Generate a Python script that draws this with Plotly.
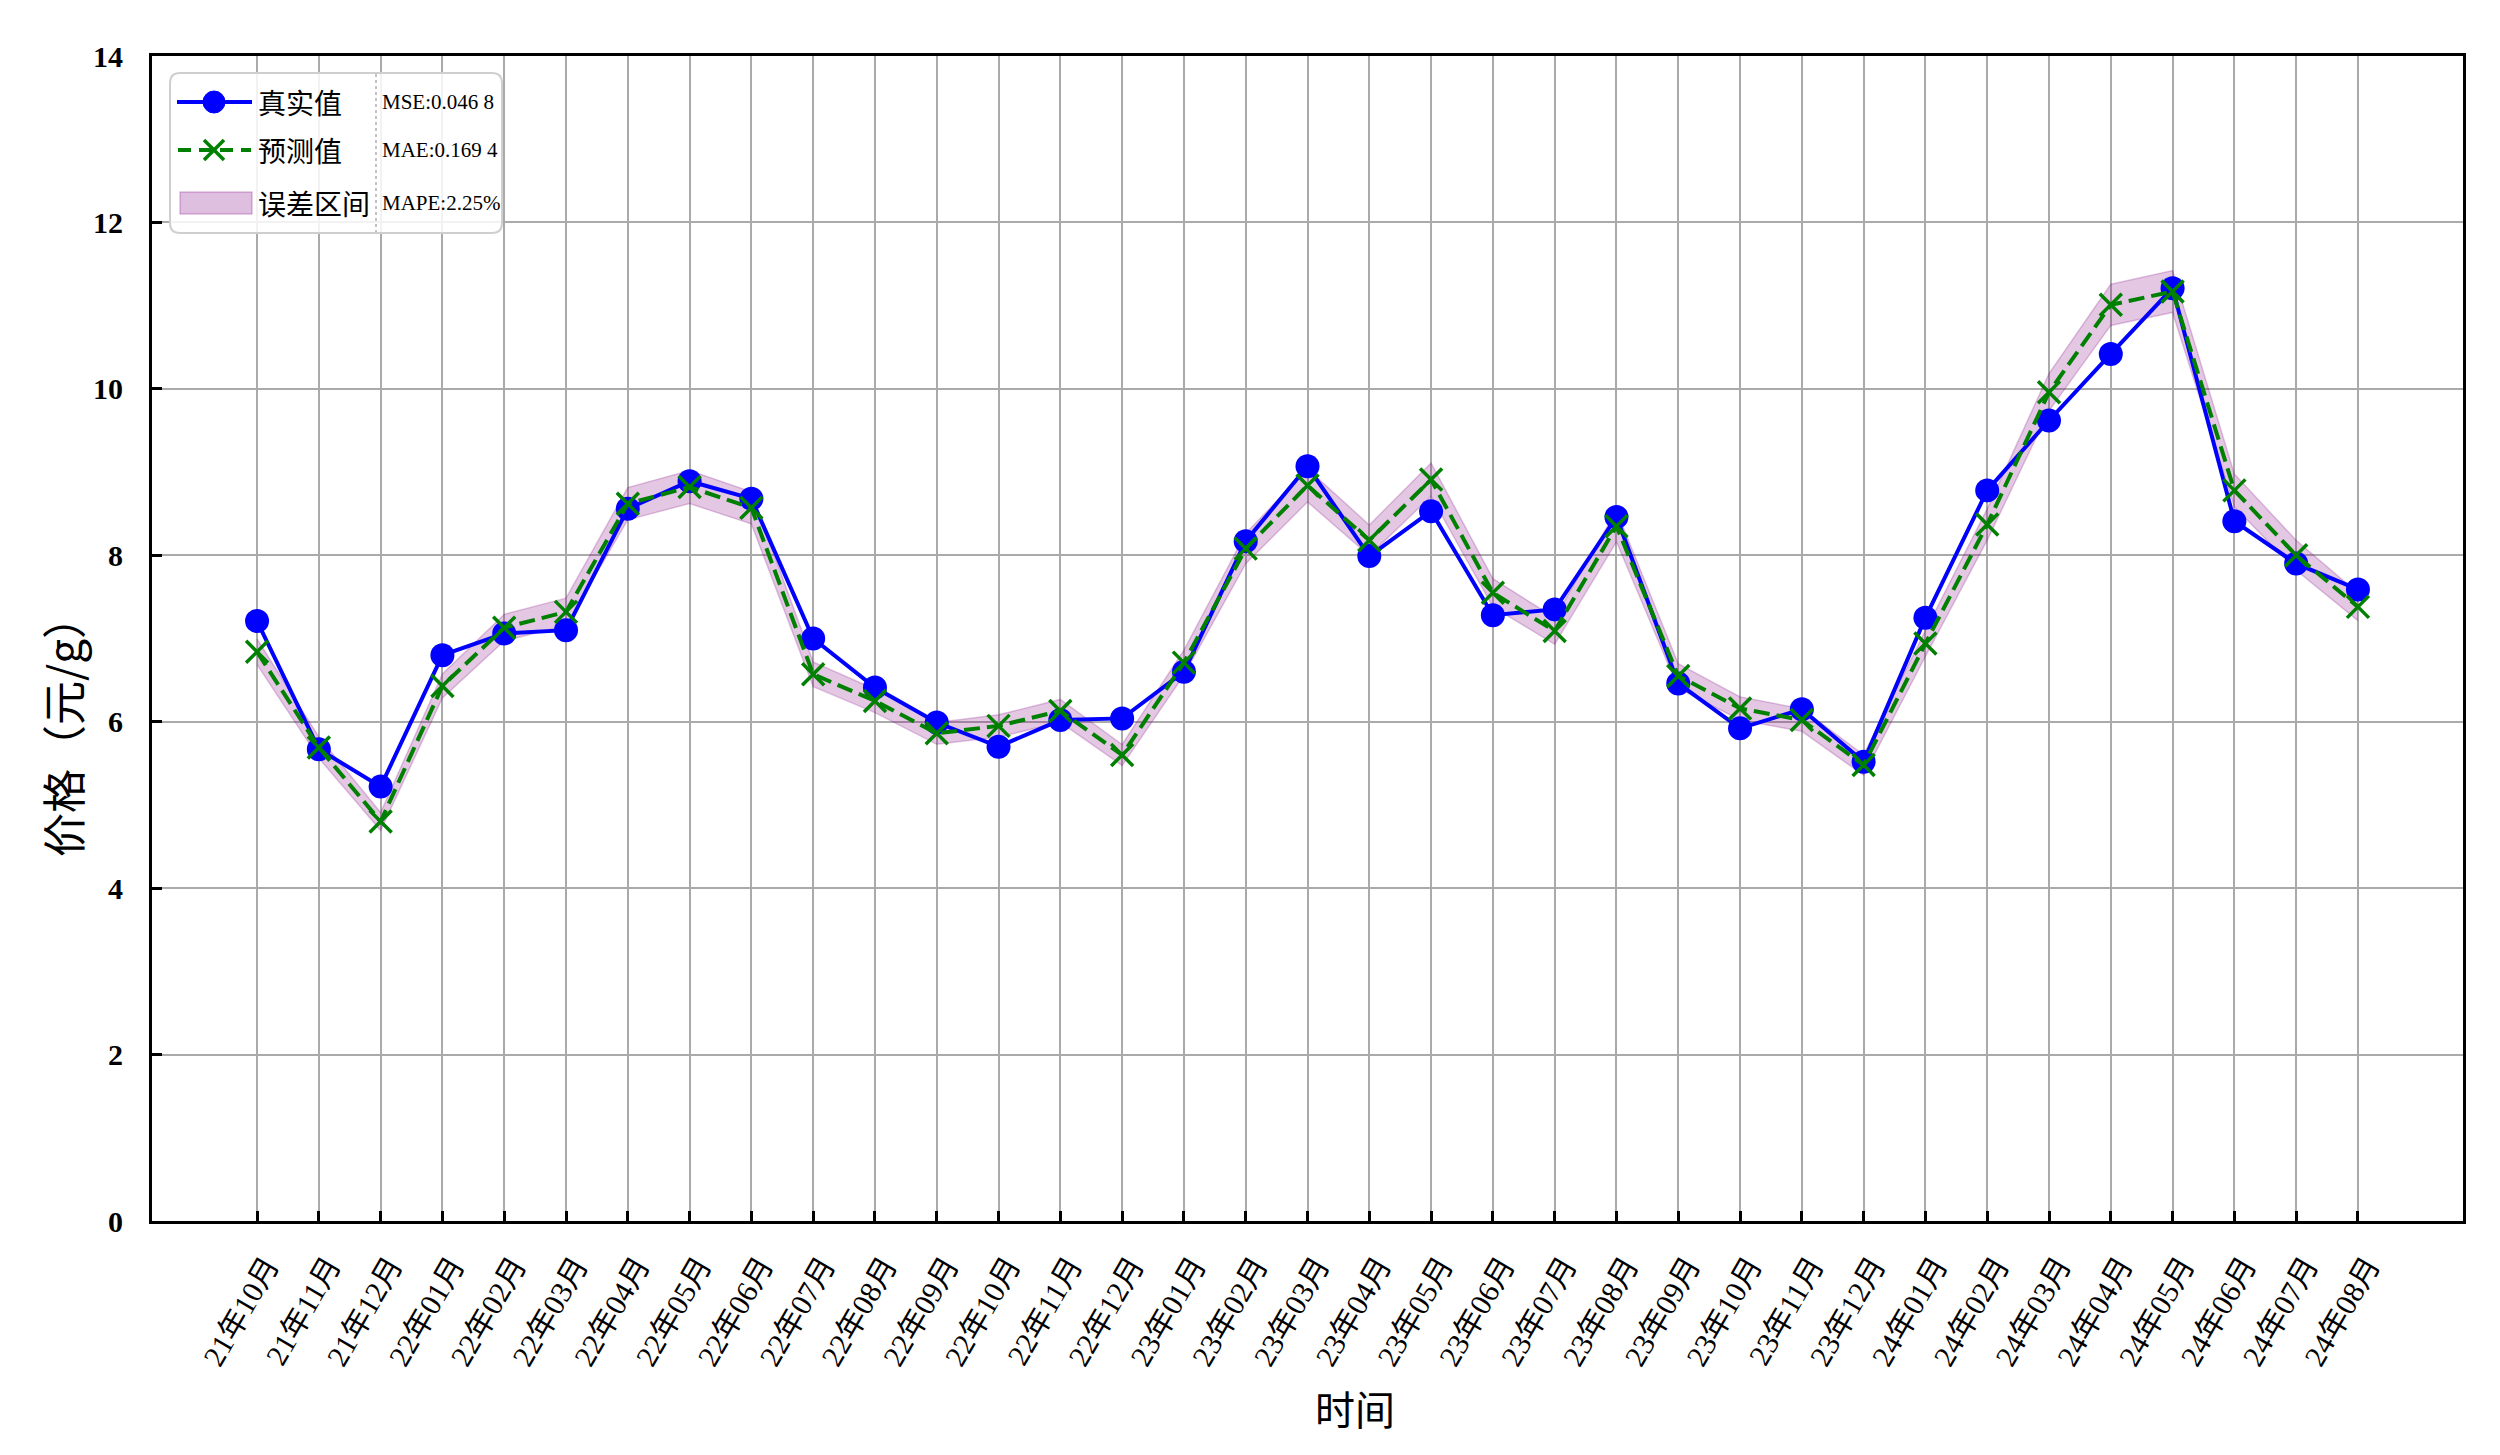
import plotly.graph_objects as go

# ---------------- data ----------------
months = ["21年10月", "21年11月", "21年12月",
          "22年01月", "22年02月", "22年03月", "22年04月", "22年05月", "22年06月",
          "22年07月", "22年08月", "22年09月", "22年10月", "22年11月", "22年12月",
          "23年01月", "23年02月", "23年03月", "23年04月", "23年05月", "23年06月",
          "23年07月", "23年08月", "23年09月", "23年10月", "23年11月", "23年12月",
          "24年01月", "24年02月", "24年03月", "24年04月", "24年05月", "24年06月",
          "24年07月", "24年08月"]

true_values = [7.21, 5.67, 5.22, 6.80, 7.06, 7.10, 8.56, 8.89, 8.68, 7.00,
               6.41, 5.99, 5.70, 6.02, 6.04, 6.60, 8.17, 9.07, 7.99, 8.53,
               7.28, 7.35, 8.46, 6.46, 5.92, 6.15, 5.52, 7.25, 8.78, 9.62,
               10.42, 11.21, 8.41, 7.90, 7.59]

pred_values = [6.84, 5.69, 4.80, 6.43, 7.13, 7.32, 8.62, 8.82, 8.57, 6.57,
               6.25, 5.86, 5.95, 6.13, 5.60, 6.71, 8.08, 8.84, 8.18, 8.91,
               7.55, 7.09, 8.35, 6.55, 6.16, 6.02, 5.48, 6.94, 8.37, 9.96,
               11.01, 11.17, 8.78, 8.00, 7.38]

mse_text = "MSE:0.046 8"
mae_text = "MAE:0.169 4"
mape_text = "MAPE:2.25%"
mape = 0.0225

y_ticks = [0, 2, 4, 6, 8, 10, 12, 14]

upper = [p * (1 + mape) for p in pred_values]
lower = [p * (1 - mape) for p in pred_values]

# ---------------- layout geometry ----------------
OFF = 8                      # default page body margin
W, H = 2500 - OFF, 1455 - OFF
L, R, T, B = 152 - OFF, 37, 56 - OFF, 234
PW, PH = W - L - R, H - T - B


def X(px):
    # page pixel -> paper x
    return (px - OFF - L) / PW


def Y(py):
    # page pixel -> paper y
    return (H - B - (py - OFF)) / PH


BAND_FILL = "rgba(128,0,128,0.22)"
BLUE = "#0000ff"
GREEN = "#008000"
SERIF = "Liberation Serif, Noto Sans CJK SC, serif"
CJK = "Noto Sans CJK SC, Liberation Serif, sans-serif"

fig = go.Figure()

# error band
fig.add_trace(go.Scatter(x=months, y=upper, mode="lines",
                         line=dict(color=BAND_FILL, width=1.5),
                         showlegend=False, hoverinfo="skip"))
fig.add_trace(go.Scatter(x=months, y=lower, mode="lines", fill="tonexty",
                         fillcolor=BAND_FILL,
                         line=dict(color=BAND_FILL, width=1.5),
                         name="误差区间", showlegend=False, hoverinfo="skip"))
# true values
fig.add_trace(go.Scatter(x=months, y=true_values, mode="lines+markers",
                         name="真实值",
                         line=dict(color=BLUE, width=4),
                         marker=dict(symbol="circle", size=24, color=BLUE),
                         showlegend=False))
# predicted values
fig.add_trace(go.Scatter(x=months, y=pred_values, mode="lines+markers",
                         name="预测值",
                         line=dict(color=GREEN, width=4, dash="16px,7px"),
                         marker=dict(symbol="x-thin", size=22,
                                     line=dict(color=GREEN, width=3.5)),
                         showlegend=False))

# ---------------- custom legend ----------------
shapes = []
annotations = []

bx0, bx1, by0, by1, rr = 170, 502, 73, 233, 10
path = (f"M {X(bx0+rr)},{Y(by0)} L {X(bx1-rr)},{Y(by0)} "
        f"Q {X(bx1)},{Y(by0)} {X(bx1)},{Y(by0+rr)} "
        f"L {X(bx1)},{Y(by1-rr)} Q {X(bx1)},{Y(by1)} {X(bx1-rr)},{Y(by1)} "
        f"L {X(bx0+rr)},{Y(by1)} Q {X(bx0)},{Y(by1)} {X(bx0)},{Y(by1-rr)} "
        f"L {X(bx0)},{Y(by0+rr)} Q {X(bx0)},{Y(by0)} {X(bx0+rr)},{Y(by0)} Z")
shapes.append(dict(type="path", path=path, xref="paper", yref="paper",
                   fillcolor="rgba(255,255,255,0.85)",
                   line=dict(color="#cfcfcf", width=2), layer="above"))
shapes.append(dict(type="line", xref="paper", yref="paper",
                   x0=X(376), x1=X(376), y0=Y(by0 + 1), y1=Y(by1 - 1),
                   line=dict(color="#9a9a9a", width=1.2, dash="dot"), layer="above"))

r1, r2, r3 = 102, 150, 203
# row 1: blue line with circle
shapes.append(dict(type="line", xref="paper", yref="paper",
                   x0=X(177), x1=X(252), y0=Y(r1), y1=Y(r1),
                   line=dict(color=BLUE, width=4), layer="above"))
shapes.append(dict(type="circle", xref="paper", yref="paper",
                   x0=X(203), x1=X(225), y0=Y(r1 - 11), y1=Y(r1 + 11),
                   fillcolor=BLUE, line=dict(color=BLUE, width=1), layer="above"))
# row 2: dashed green line with x
shapes.append(dict(type="line", xref="paper", yref="paper",
                   x0=X(178), x1=X(251), y0=Y(r2), y1=Y(r2),
                   line=dict(color=GREEN, width=4, dash="13px,8px"), layer="above"))
shapes.append(dict(type="line", xref="paper", yref="paper",
                   x0=X(204), x1=X(224), y0=Y(r2 - 10), y1=Y(r2 + 10),
                   line=dict(color=GREEN, width=3.5), layer="above"))
shapes.append(dict(type="line", xref="paper", yref="paper",
                   x0=X(204), x1=X(224), y0=Y(r2 + 10), y1=Y(r2 - 10),
                   line=dict(color=GREEN, width=3.5), layer="above"))
# row 3: band patch
shapes.append(dict(type="rect", xref="paper", yref="paper",
                   x0=X(180), x1=X(252), y0=Y(r3 - 11), y1=Y(r3 + 11),
                   fillcolor="rgba(128,0,128,0.25)",
                   line=dict(color="rgba(128,0,128,0.25)", width=1.5), layer="above"))

legend_labels = ["真实值", "预测值", "误差区间"]
metric_labels = [mse_text, mae_text, mape_text]
for ry, lab, met in zip([r1, r2, r3], legend_labels, metric_labels):
    annotations.append(dict(text=lab, xref="paper", yref="paper", x=X(256), y=Y(ry),
                            xanchor="left", yanchor="middle", showarrow=False,
                            font=dict(family=CJK, size=28, color="black")))
    annotations.append(dict(text=met, xref="paper", yref="paper", x=X(380), y=Y(ry),
                            xanchor="left", yanchor="middle", showarrow=False,
                            font=dict(family=SERIF, size=21, color="black")))

# axis titles
annotations.append(dict(text="时间", xref="paper", yref="paper",
                        x=X(1355), y=Y(1408), xanchor="center", yanchor="middle",
                        showarrow=False, font=dict(family=CJK, size=40, color="black")))
annotations.append(dict(text="价格（元/g）", xref="paper", yref="paper",
                        x=X(62), y=Y(726), xanchor="center", yanchor="middle",
                        textangle=-90, showarrow=False,
                        font=dict(family=CJK, size=44, color="black")))

fig.update_layout(
    width=W, height=H,
    margin=dict(l=L, r=R, t=T, b=B, pad=0),
    plot_bgcolor="white", paper_bgcolor="white",
    showlegend=False,
    shapes=shapes, annotations=annotations,
    xaxis=dict(type="category", range=[-1.7, 35.7],
               showgrid=True, gridcolor="#aaaaaa", gridwidth=2,
               showline=True, linecolor="black", linewidth=3, mirror=True,
               ticks="inside", ticklen=10, tickwidth=2.5, tickcolor="black",
               tickangle=-60, ticklabelstandoff=12, ticklabelshift=10,
               tickfont=dict(family=SERIF, size=30, color="black"),
               zeroline=False),
    yaxis=dict(range=[0, 14], tickvals=y_ticks,
               ticktext=[f"<b>{v}</b>" for v in y_ticks],
               showgrid=True, gridcolor="#aaaaaa", gridwidth=2,
               showline=True, linecolor="black", linewidth=3, mirror=True,
               ticks="inside", ticklen=10, tickwidth=2.5, tickcolor="black",
               ticklabelstandoff=20,
               tickfont=dict(family=SERIF, size=30, color="black"),
               zeroline=False),
)

fig.write_html("out.html")
